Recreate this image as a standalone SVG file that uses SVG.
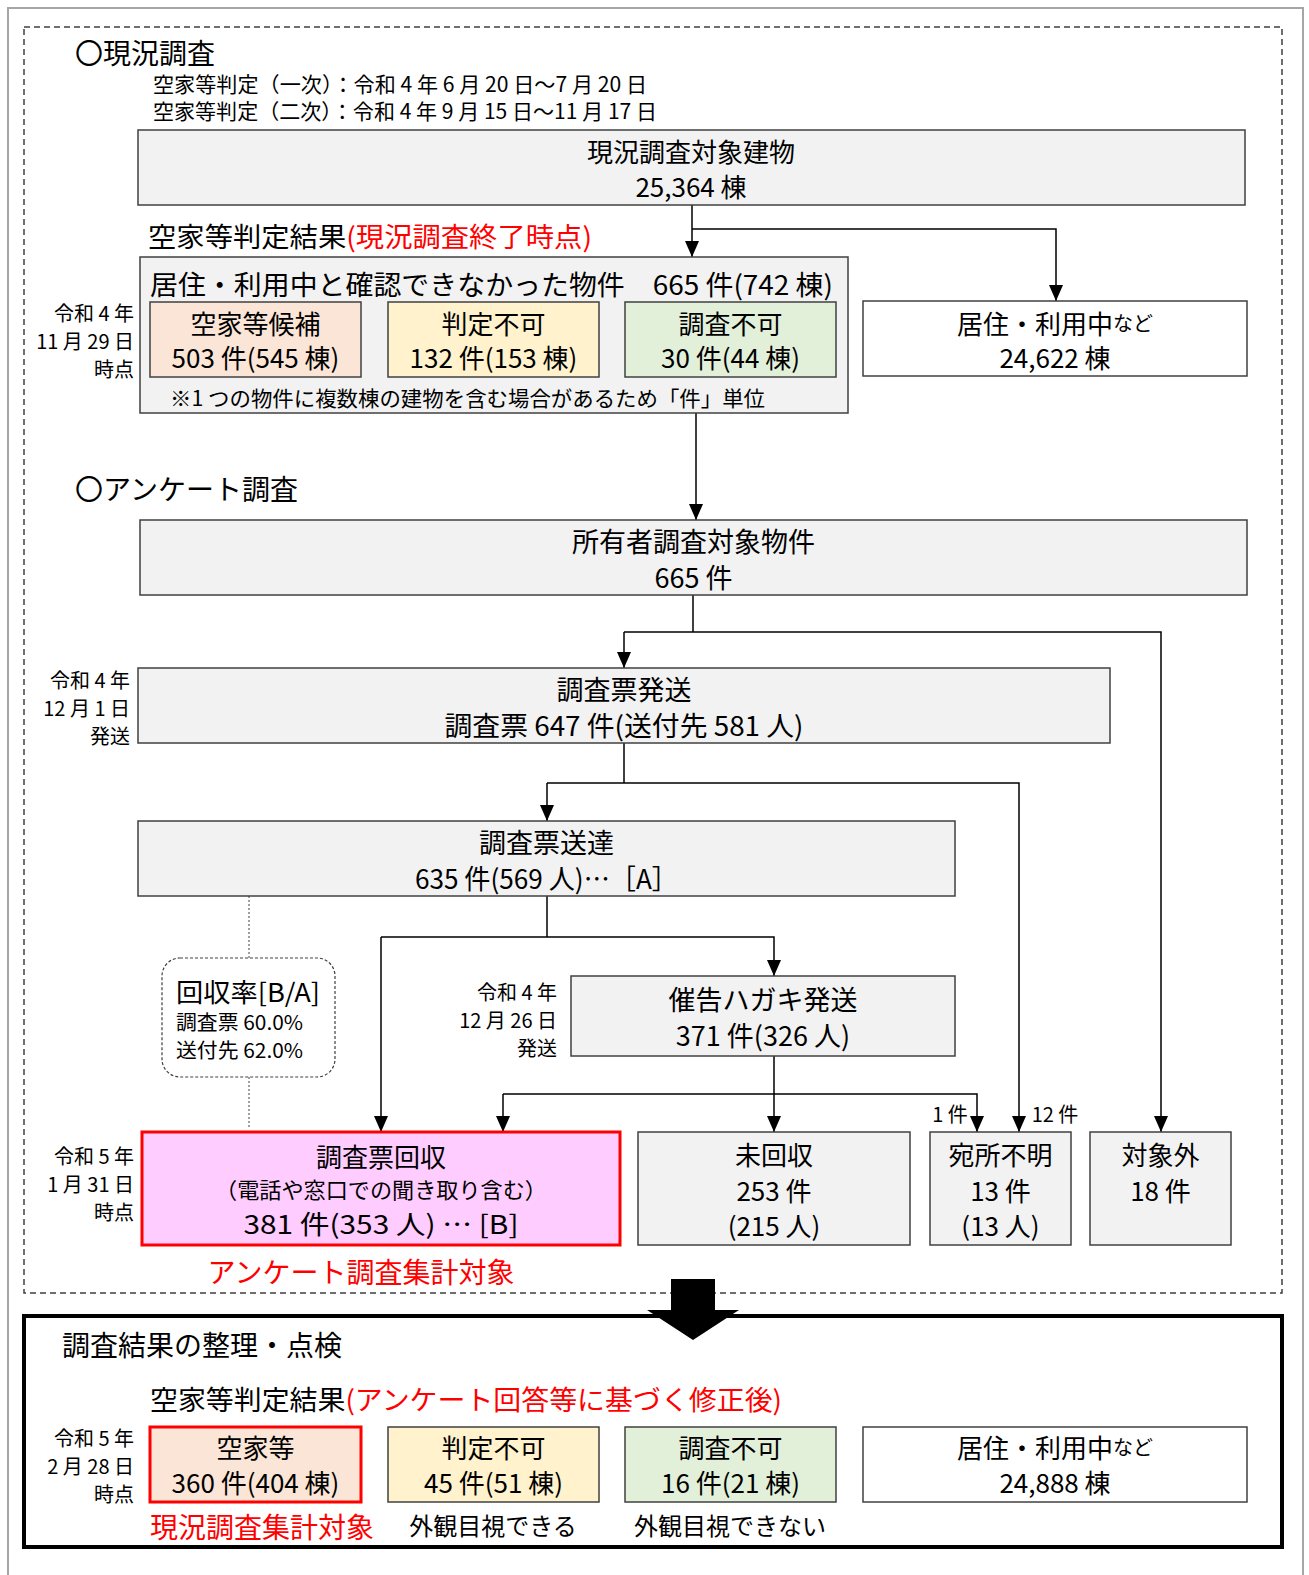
<svg xmlns="http://www.w3.org/2000/svg" width="1309" height="1575" viewBox="0 0 1309 1575">
<style>
text{font-family:'Noto Sans CJK JP','Noto Sans CJK SC',sans-serif;fill:#000;dominant-baseline:central}
.c{text-anchor:middle}
.r{text-anchor:end}
.red{fill:#ff0000}
.gb{fill:#f2f2f2;stroke:#404040;stroke-width:1.5}
.wb{fill:#fff;stroke:#404040;stroke-width:1.5}
.pe{fill:#fbe5d6;stroke:#404040;stroke-width:1.5}
.ye{fill:#fff2cc;stroke:#404040;stroke-width:1.5}
.gr{fill:#e2f0d9;stroke:#404040;stroke-width:1.5}
.f28{font-size:28px}
.f26{font-size:26px}
.f27{font-size:27px}
.f24{font-size:24px}
.f22{font-size:22px}
.f21{font-size:21px}
.f20{font-size:20px}
.ln{fill:none;stroke:#000;stroke-width:1.5}
.arr{marker-end:url(#ah)}
</style>
<defs>
<marker id="ah" markerUnits="userSpaceOnUse" markerWidth="16" markerHeight="14" refX="16" refY="7" orient="auto">
<path d="M0,0 L16,7 L0,14 Z" fill="#000"/>
</marker>
</defs>
<rect x="0" y="0" width="1309" height="1575" fill="#fff"/>
<rect x="8" y="8" width="1295" height="1620" fill="none" stroke="#a6a6a6" stroke-width="2"/>
<rect x="24" y="27" width="1258" height="1266" fill="none" stroke="#404040" stroke-width="1.5" stroke-dasharray="6,4"/>

<g id="headings">
<text x="75" y="52" class="f28">〇現況調査</text>
<text x="153" y="83" class="f21" textLength="494" lengthAdjust="spacingAndGlyphs">空家等判定（一次）：令和 4 年 6 月 20 日～7 月 20 日</text>
<text x="153" y="110" class="f21" textLength="504" lengthAdjust="spacingAndGlyphs">空家等判定（二次）：令和 4 年 9 月 15 日～11 月 17 日</text>
<text x="148" y="235" class="f27" textLength="444" lengthAdjust="spacingAndGlyphs">空家等判定結果<tspan class="red">(現況調査終了時点)</tspan></text>
<text x="75" y="488" class="f28">〇アンケート調査</text>
</g>

<g id="connectors">
<path class="ln arr" d="M692,205 V257"/>
<path class="ln arr" d="M692,229 H1056 V301"/>
<path class="ln arr" d="M696,413 V520"/>
<path class="ln" d="M693,595 V632"/>
<path class="ln arr" d="M624,632 V668"/>
<path class="ln arr" d="M624,632 H1161 V1132"/>
<path class="ln" d="M624,743 V783"/>
<path class="ln arr" d="M547,783 V821"/>
<path class="ln arr" d="M547,783 H1019 V1132"/>
<path class="ln" d="M547,896 V937"/>
<path class="ln arr" d="M381,937 V1132"/>
<path class="ln arr" d="M381,937 H774 V976"/>
<path class="ln arr" d="M774,1056 V1132"/>
<path class="ln arr" d="M503,1094 H977 V1132"/>
<path class="ln arr" d="M503,1094 V1132"/>
<path d="M249,896 V958 M249,1077 V1128" fill="none" stroke="#404040" stroke-width="1" stroke-dasharray="2,2"/>
<text x="950" y="1113" class="c f20">1 件</text>
<text x="1055" y="1113" class="c f20">12 件</text>
</g>

<g id="n-building">
<rect x="138" y="130" width="1107" height="75" class="gb"/>
<text x="691" y="150" class="c f26">現況調査対象建物</text>
<text x="691" y="185" class="c f26">25,364 棟</text>
</g>

<g id="n-unconfirmed">
<rect x="140" y="257" width="708" height="156" class="gb"/>
<text x="150" y="283" class="f27" textLength="683" lengthAdjust="spacingAndGlyphs">居住・利用中と確認できなかった物件　665 件(742 棟)</text>
<text x="170" y="397" class="f21" textLength="595" lengthAdjust="spacingAndGlyphs">※1 つの物件に複数棟の建物を含む場合があるため「件」単位</text>
</g>
<g id="n-candidate">
<rect x="150" y="302" width="211" height="75" class="pe"/>
<text x="255.5" y="322" class="c f26">空家等候補</text>
<text x="255.5" y="356" class="c f26">503 件(545 棟)</text>
</g>
<g id="n-undetermined">
<rect x="388" y="302" width="211" height="75" class="ye"/>
<text x="493.5" y="322" class="c f26">判定不可</text>
<text x="493.5" y="356" class="c f26">132 件(153 棟)</text>
</g>
<g id="n-unsurveyable">
<rect x="625" y="302" width="211" height="75" class="gr"/>
<text x="730.5" y="322" class="c f26">調査不可</text>
<text x="730.5" y="356" class="c f26">30 件(44 棟)</text>
</g>
<g id="date1">
<text x="134" y="312" class="r f20">令和 4 年</text>
<text x="134" y="340" class="r f20">11 月 29 日</text>
<text x="134" y="368" class="r f20">時点</text>
</g>
<g id="n-inuse">
<rect x="863" y="301" width="384" height="75" class="wb"/>
<text x="1055" y="322" class="c f26">居住・利用中<tspan class="f20">など</tspan></text>
<text x="1055" y="356" class="c f26">24,622 棟</text>
</g>

<g id="n-owners">
<rect x="140" y="520" width="1107" height="75" class="gb"/>
<text x="693.5" y="540" class="c f27">所有者調査対象物件</text>
<text x="693.5" y="576" class="c f27">665 件</text>
</g>

<g id="date2">
<text x="130" y="679" class="r f20">令和 4 年</text>
<text x="130" y="707" class="r f20">12 月 1 日</text>
<text x="130" y="735" class="r f20">発送</text>
</g>
<g id="n-sent">
<rect x="138" y="668" width="972" height="75" class="gb"/>
<text x="624" y="688" class="c f27">調査票発送</text>
<text x="624" y="724" class="c f27" textLength="359" lengthAdjust="spacingAndGlyphs">調査票 647 件(送付先 581 人)</text>
</g>

<g id="n-delivered">
<rect x="138" y="821" width="817" height="75" class="gb"/>
<text x="546.5" y="841" class="c f27">調査票送達</text>
<text x="546.5" y="877" class="c f27" textLength="263" lengthAdjust="spacingAndGlyphs">635 件(569 人)…［A］</text>
</g>

<g id="n-rate">
<rect x="162" y="958" width="173" height="119" rx="18" ry="18" fill="#fff" stroke="#404040" stroke-width="1.2" stroke-dasharray="3,2"/>
<text x="176" y="990" class="f26" textLength="144" lengthAdjust="spacingAndGlyphs">回収率[B/A]</text>
<text x="176" y="1021" class="f20" textLength="127" lengthAdjust="spacingAndGlyphs">調査票 60.0%</text>
<text x="176" y="1049" class="f20" textLength="127" lengthAdjust="spacingAndGlyphs">送付先 62.0%</text>
</g>

<g id="date3">
<text x="557" y="991" class="r f20">令和 4 年</text>
<text x="557" y="1019" class="r f20">12 月 26 日</text>
<text x="557" y="1047" class="r f20">発送</text>
</g>
<g id="n-reminder">
<rect x="571" y="976" width="384" height="80" class="gb"/>
<text x="763" y="998" class="c f27">催告ハガキ発送</text>
<text x="763" y="1034" class="c f27">371 件(326 人)</text>
</g>

<g id="date4">
<text x="134" y="1155" class="r f20">令和 5 年</text>
<text x="134" y="1183" class="r f20">1 月 31 日</text>
<text x="134" y="1211" class="r f20">時点</text>
</g>
<g id="n-collected">
<rect x="142" y="1132" width="478" height="113" fill="#ffccff" stroke="#ff0000" stroke-width="3"/>
<text x="381" y="1155" class="c f26">調査票回収</text>
<text x="381" y="1188" class="c f22" textLength="332" lengthAdjust="spacingAndGlyphs">（電話や窓口での聞き取り含む）</text>
<text x="381" y="1222" class="c f26" textLength="275" lengthAdjust="spacingAndGlyphs">381 件(353 人) … [B]</text>
<text x="361" y="1271" class="c f28 red">アンケート調査集計対象</text>
</g>
<g id="n-uncollected">
<rect x="638" y="1132" width="272" height="113" class="gb"/>
<text x="774" y="1153" class="c f26">未回収</text>
<text x="774" y="1189" class="c f26">253 件</text>
<text x="774" y="1224" class="c f26">(215 人)</text>
</g>
<g id="n-unknown">
<rect x="930" y="1132" width="141" height="113" class="gb"/>
<text x="1000.5" y="1153" class="c f26">宛所不明</text>
<text x="1000.5" y="1189" class="c f26">13 件</text>
<text x="1000.5" y="1224" class="c f26">(13 人)</text>
</g>
<g id="n-excluded">
<rect x="1090" y="1132" width="141" height="113" class="gb"/>
<text x="1160.5" y="1153" class="c f26">対象外</text>
<text x="1160.5" y="1189" class="c f26">18 件</text>
</g>

<g id="result-panel">
<rect x="24" y="1316" width="1258" height="231" fill="none" stroke="#000" stroke-width="4"/>
<text x="62" y="1344" class="f28">調査結果の整理・点検</text>
<text x="150" y="1398" class="f27" textLength="632" lengthAdjust="spacingAndGlyphs">空家等判定結果<tspan class="red">(アンケート回答等に基づく修正後)</tspan></text>
</g>
<g id="big-arrow">
<polygon points="671,1279 715,1279 715,1310 739,1310 693,1340 647,1310 671,1310" fill="#000"/>
</g>
<g id="date5">
<text x="134" y="1437" class="r f20">令和 5 年</text>
<text x="134" y="1465" class="r f20">2 月 28 日</text>
<text x="134" y="1493" class="r f20">時点</text>
</g>
<g id="n-vacant">
<rect x="150" y="1427" width="211" height="75" fill="#fbe5d6" stroke="#ff0000" stroke-width="3"/>
<text x="255.5" y="1446" class="c f26">空家等</text>
<text x="255.5" y="1481" class="c f26">360 件(404 棟)</text>
<text x="150" y="1526" class="f28 red">現況調査集計対象</text>
</g>
<g id="n-undetermined2">
<rect x="388" y="1427" width="211" height="75" class="ye"/>
<text x="493.5" y="1446" class="c f26">判定不可</text>
<text x="493.5" y="1481" class="c f26">45 件(51 棟)</text>
<text x="493" y="1524" class="c f24">外観目視できる</text>
</g>
<g id="n-unsurveyable2">
<rect x="625" y="1427" width="211" height="75" class="gr"/>
<text x="730.5" y="1446" class="c f26">調査不可</text>
<text x="730.5" y="1481" class="c f26">16 件(21 棟)</text>
<text x="730" y="1524" class="c f24">外観目視できない</text>
</g>
<g id="n-inuse2">
<rect x="863" y="1427" width="384" height="75" class="wb"/>
<text x="1055" y="1446" class="c f26">居住・利用中<tspan class="f20">など</tspan></text>
<text x="1055" y="1481" class="c f26">24,888 棟</text>
</g>
</svg>
